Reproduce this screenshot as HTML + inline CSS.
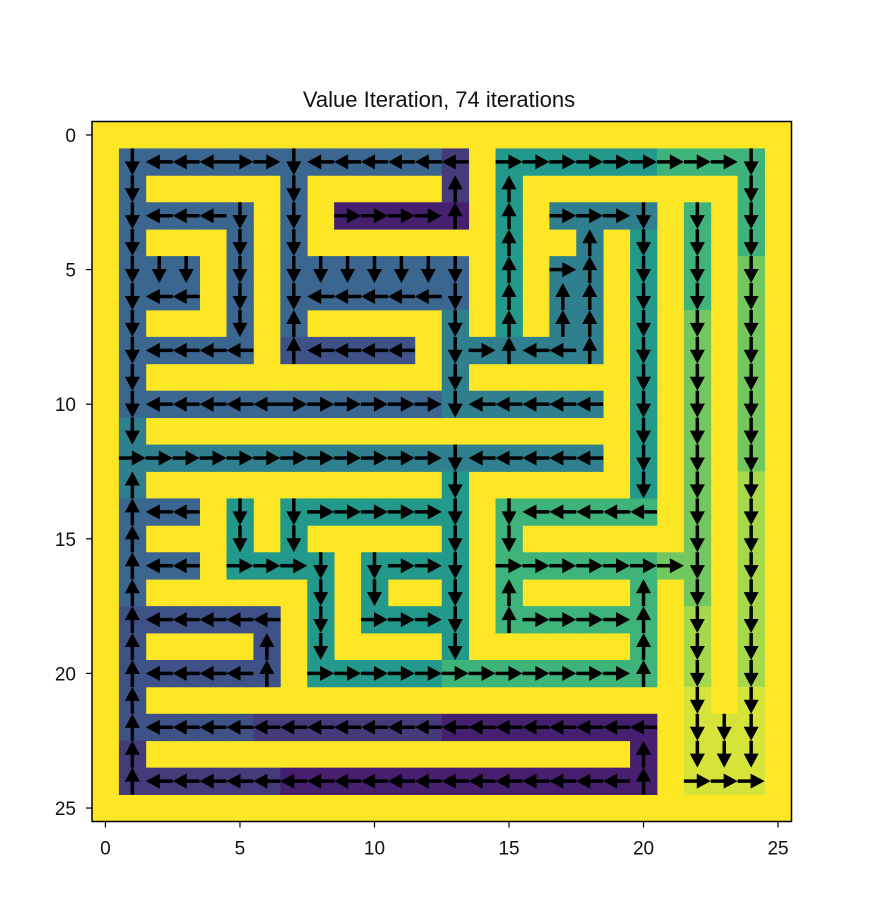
<!DOCTYPE html>
<html><head><meta charset="utf-8"><style>
html,body{margin:0;padding:0;background:#fff;}
svg{display:block;font-family:"Liberation Sans","DejaVu Sans",sans-serif;}
</style></head><body>
<svg id="chart" width="880" height="920" viewBox="0 0 880 920" xmlns="http://www.w3.org/2000/svg">
<text x="439" y="107" font-size="22" text-anchor="middle" fill="#111">Value Iteration, 74 iterations</text>
<g id="cells"></g>
<g id="arrows"></g>
<g id="axes"></g>
</svg>
<script>
// value levels per cell (0-9), '#' = wall
const valueRows = [
"##########################",
"#3333333333331#5555556666#",
"#3#####3#####1#5########6#",
"#33333#3#00000#5#4444#6#6#",
"#3###3#3#######5##4#5#6#6#",
"#333#3#3333333#5#44#5#6#7#",
"#333#3#3333333#5#44#5#6#7#",
"#3###3#3#####4#5#44#5#7#7#",
"#33333#22222#444444#5#7#7#",
"#3###########4######5#7#7#",
"#333333333333444444#5#7#7#",
"#4##################5#7#7#",
"#444444444444444444#5#7#7#",
"#4###########5######5#7#8#",
"#333#5#5555555#666666#7#8#",
"#3###5#5#####5#6######7#8#",
"#333#5555#5555#66666677#8#",
"#3######5#5##5#6####6#7#8#",
"#222222#5#5555#666666#8#8#",
"#2####2#5####5######6#8#8#",
"#222222#5555566666666#8#8#",
"#2####################9#9#",
"#22222111111100000000#999#",
"#1##################0#999#",
"#11111100000000000000#999#",
"##########################"
];
// policy per cell: L R U D, '#' = wall
const policyRows = [
"##########################",
"#DLLLRRDLLLLLL#RRRRRRRRRD#",
"#D#####D#####U#U########D#",
"#DLLLD#D#RRRRU#U#RRRD#D#D#",
"#D###D#D#######U##U#D#D#D#",
"#DDD#D#DDDDDDD#U#RU#D#D#D#",
"#DLL#D#DLLLLLD#U#UU#D#D#D#",
"#D###D#U#####D#U#UU#D#D#D#",
"#DLLLL#ULLLL#DRULLU#D#D#D#",
"#D###########D######D#D#D#",
"#DLLLLLRRRRRRDLLLLL#D#D#D#",
"#D##################D#D#D#",
"#RRRRRRRRRRRRDLLLLL#D#D#D#",
"#U###########D######D#D#D#",
"#ULL#D#DRRRRRD#DLLLLL#D#D#",
"#U###D#D#####D#D######D#D#",
"#ULL#RRRD#DRRD#RRRRRRRD#D#",
"#U######D#D##D#U####U#D#D#",
"#ULLLLL#D#RRRD#URRRRU#D#D#",
"#U####U#D####D######U#D#D#",
"#ULLLLU#RRRRRRRRRRRRU#D#D#",
"#U####################D#D#",
"#ULLLLLLLLLLLLLLLLLLL#DDD#",
"#U##################U#DDD#",
"#ULLLLLLLLLLLLLLLLLLU#RRR#",
"##########################"
];
const xTicks = [0,5,10,15,20,25];
const yTicks = [0,5,10,15,20,25];
const levelColors = ["#45206f","#453a7a","#3e5287","#3b6690","#2f7f8e","#22998a","#3fb47a","#72c85e","#a5d94a","#d6e43a"];
const WALL = "#fde725";

const X0 = 92, X1 = 791.5, Y0 = 121.5, Y1 = 821.5, N = 26;
const cw = (X1-X0)/N, ch = (Y1-Y0)/N;
function xs(v){ return X0 + (v+0.5)*cw; }
function ys(v){ return Y0 + (v+0.5)*ch; }
const NS = "http://www.w3.org/2000/svg";
function mk(tag, attrs){ const e = document.createElementNS(NS, tag); for (const k in attrs) e.setAttribute(k, attrs[k]); return e; }

const cells = document.getElementById('cells');
const bg = mk('rect', {x:X0, y:Y0, width:X1-X0, height:Y1-Y0, fill:WALL});


cells.appendChild(bg);
for (let r = 0; r < valueRows.length; r++) {
  for (let c = 0; c < valueRows[r].length; c++) {
    const ch0 = valueRows[r][c];
    if (ch0 === '#') continue;
    const rect = mk('rect', {x:(xs(c)-cw/2).toFixed(2), y:(ys(r)-ch/2).toFixed(2), width:(cw+0.4).toFixed(2), height:(ch+0.4).toFixed(2), fill:levelColors[+ch0]});
    
    
    cells.appendChild(rect);
  }
}

const arrows = document.getElementById('arrows');
const dirs = {L:[-1,0], R:[1,0], U:[0,-1], D:[0,1]};
for (let r = 0; r < policyRows.length; r++) {
  for (let c = 0; c < policyRows[r].length; c++) {
    const p = policyRows[r][c];
    if (!dirs[p]) continue;
    const [dx, dy] = dirs[p];
    const cx = xs(c), cy = ys(r);
    const L = cw*0.5, tx = cx + dx*L, ty = cy + dy*L, sx = cx - dx*L, sy = cy - dy*L;
    const hl = 14, hw = 7.5;
    const bx = tx - dx*hl, by = ty - dy*hl;
    const g = mk('g', {});
    
    
    g.appendChild(mk('line', {x1:sx, y1:sy, x2:bx+dx*2, y2:by+dy*2, stroke:'#000', 'stroke-width':3.5}));
    const pts = [tx+','+ty, (bx - dy*hw)+','+(by + dx*hw), (bx + dy*hw)+','+(by - dx*hw)].join(' ');
    g.appendChild(mk('polygon', {points:pts, fill:'#000'}));
    arrows.appendChild(g);
  }
}

const axes = document.getElementById('axes');
const frame = mk('rect', {x:X0, y:Y0, width:X1-X0, height:Y1-Y0, fill:'none', stroke:'#000', 'stroke-width':1.5});


axes.appendChild(frame);
xTicks.forEach(t => {
  const x = xs(t);
  const tk = mk('line', {x1:x, y1:Y1, x2:x, y2:Y1+6, stroke:'#000', 'stroke-width':1.2});
  
  
  axes.appendChild(tk);
  const lb = mk('text', {x:x, y:Y1+33, 'font-size':19, 'text-anchor':'middle', fill:'#111'});
  lb.textContent = t;
  
  
  axes.appendChild(lb);
});
yTicks.forEach(t => {
  const y = ys(t);
  const tk = mk('line', {x1:X0-6, y1:y, x2:X0, y2:y, stroke:'#000', 'stroke-width':1.2});
  
  
  axes.appendChild(tk);
  const lb = mk('text', {x:X0-16, y:y+7, 'font-size':19, 'text-anchor':'end', fill:'#111'});
  lb.textContent = t;
  
  
  axes.appendChild(lb);
});
</script>
</body></html>
